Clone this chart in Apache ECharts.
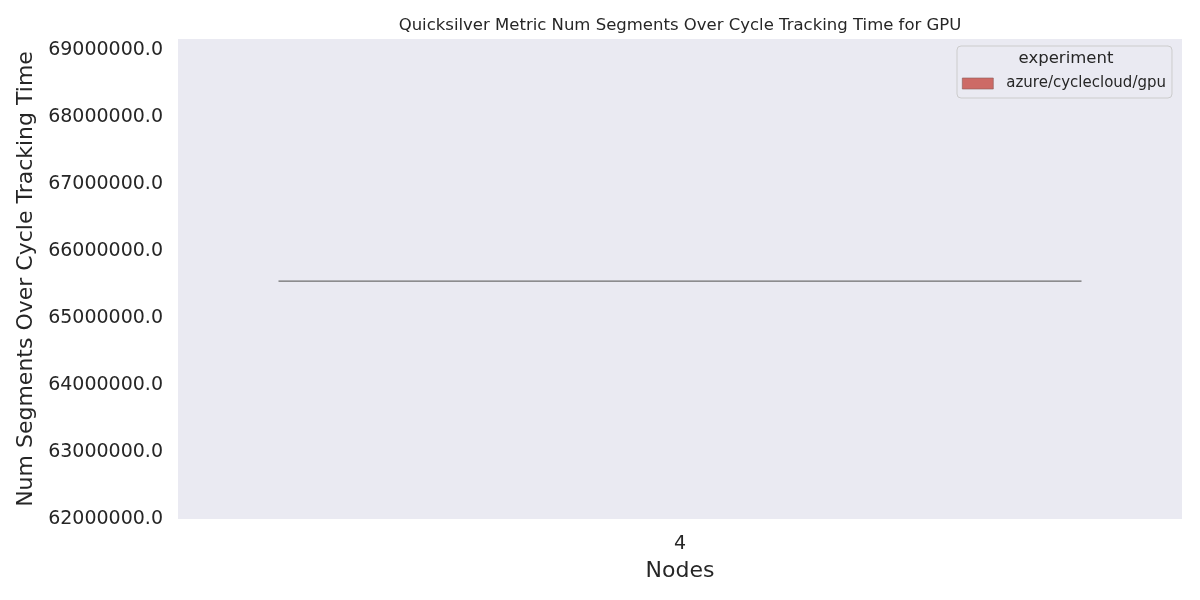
<!DOCTYPE html>
<html><head><meta charset="utf-8">
<script src="https://cdn.jsdelivr.net/npm/echarts@6/dist/echarts.min.js"></script>
<style>html,body{margin:0;padding:0;background:#fff}#c{width:1200px;height:600px}</style>
</head><body><div id="c"></div>
<script>
const categories = ['4'];
const seriesName = 'azure/cyclecloud/gpu';
// one observation per node count: [min, Q1, median, Q3, max]
const values = [[65550000, 65550000, 65550000, 65550000, 65550000]];
const yMin = 62000000, yMax = 69164000, yStep = 1000000;

const chart = echarts.init(document.getElementById('c'));
chart.setOption({
  animation: false,
  backgroundColor: '#ffffff',
  textStyle: { fontFamily: 'DejaVu Sans' },
  title: [
    { text: 'Quicksilver Metric Num Segments Over Cycle Tracking Time for GPU',
      left: 680, top: 17, textAlign: 'center', padding: 0,
      textStyle: { fontSize: 16.5, fontWeight: 'normal', color: '#262626', fontFamily: 'DejaVu Sans' } },
    { text: 'experiment', left: 1066, top: 50, textAlign: 'center', padding: 0,
      textStyle: { fontSize: 16.5, fontWeight: 'normal', color: '#262626', fontFamily: 'DejaVu Sans' } }
  ],
  legend: {
    left: 957, top: 46,
    orient: 'vertical',
    padding: [30, 6, 7, 5],
    backgroundColor: '#eaeaf2',
    borderColor: '#cccccc', borderWidth: 1, borderRadius: 4,
    itemWidth: 31, itemHeight: 11, itemGap: 0,
    icon: 'rect',
    textStyle: { fontSize: 15, color: '#262626', fontFamily: 'DejaVu Sans', padding: [0, 0, 0, 8] },
    data: [{ name: seriesName, itemStyle: { color: '#cd6a66', borderColor: '#8a5a58', borderWidth: 0.6 } }]
  },
  grid: { left: 178, right: 18, top: 39, bottom: 81, backgroundColor: '#eaeaf2', show: true, borderWidth: 0 },
  xAxis: {
    type: 'category', data: categories,
    name: 'Nodes', nameLocation: 'middle', nameGap: 41,
    nameTextStyle: { fontSize: 22, color: '#262626' },
    axisLine: { show: false }, axisTick: { show: false },
    axisLabel: { fontSize: 19, color: '#262626', margin: 16 }
  },
  yAxis: {
    type: 'value', min: yMin, max: yMax, interval: yStep,
    name: 'Num Segments Over Cycle Tracking Time', nameLocation: 'middle', nameGap: 133,
    nameTextStyle: { fontSize: 22, color: '#262626' },
    axisLine: { show: false }, axisTick: { show: false }, splitLine: { show: false },
    axisLabel: { fontSize: 19, color: '#262626', margin: 15, showMaxLabel: false,
      formatter: v => (Math.abs(v % yStep) < 1 ? v.toFixed(1) : '') }
  },
  series: [{
    name: seriesName, type: 'boxplot',
    data: values,
    boxWidth: [803, 803],
    itemStyle: { color: '#cd6a66', borderColor: '#6e6e6e', borderWidth: 1.2 }
  }]
});
</script></body></html>
